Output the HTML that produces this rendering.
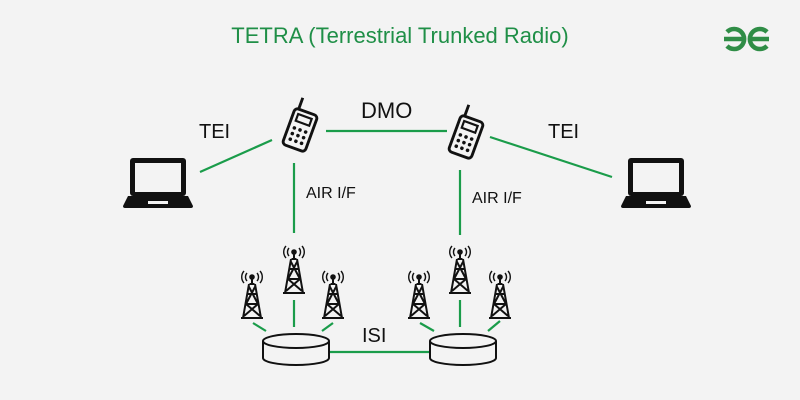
<!DOCTYPE html>
<html><head><style>body{margin:0;background:#f3f3f3}svg{display:block}</style></head><body>
<svg width="800" height="400" viewBox="0 0 800 400" xmlns="http://www.w3.org/2000/svg" font-family="Liberation Sans, sans-serif">
<defs>
<g id="tower" fill="none" stroke="#111" stroke-width="2">
<path d="M-3,-12 L-9,22 M3,-12 L9,22 M-11,22 H11 M-2.5,-12 H2.5 M-4.5,-2 L4.5,-2 M-6,8 H6 M-3.5,-10 L6,8 M3.5,-10 L-6,8 M-6,8 L8,20 M6,8 L-8,20"/>
<line x1="0" y1="-12" x2="0" y2="-20"/><circle cx="0" cy="-19" r="1.8" fill="#111"/>
<path d="M-5,-23 a6,6 0 0 0 0,8 M5,-23 a6,6 0 0 1 0,8 M-8,-25 a9,9 0 0 0 0,12 M8,-25 a9,9 0 0 1 0,12" stroke-width="1.4"/>
</g>
<g id="laptop">
<rect x="-28" y="-24" width="56" height="38" rx="3" fill="#111"/>
<rect x="-23" y="-19" width="46" height="29" fill="#f3f3f3"/>
<path d="M-30,14 H30 L35,24 Q35,26 33,26 H-33 Q-35,26 -35,24 Z" fill="#111"/>
<rect x="-10" y="19" width="20" height="3" fill="#f3f3f3"/>
</g>
<g id="phone" fill="none" stroke="#111" stroke-width="2.4">
<rect x="-10" y="-16" width="20" height="32" rx="3"/>
<line x1="-7" y1="-16" x2="-7" y2="-26"/>
<rect x="-6" y="-12" width="12" height="6" stroke-width="1.8"/>
<g fill="#111" stroke="none"><circle cx="-5" cy="0" r="1.5"/><circle cx="0" cy="0" r="1.5"/><circle cx="5" cy="0" r="1.5"/><circle cx="-5" cy="5" r="1.5"/><circle cx="0" cy="5" r="1.5"/><circle cx="5" cy="5" r="1.5"/><circle cx="-5" cy="10" r="1.5"/><circle cx="0" cy="10" r="1.5"/><circle cx="5" cy="10" r="1.5"/></g>
</g>
<g id="cyl" fill="#f3f3f3" stroke="#111" stroke-width="2">
<path d="M-33,-7 V10 A33,7 0 0 0 33,10 V-7"/>
<ellipse cx="0" cy="-7" rx="33" ry="7"/>
</g>
</defs>
<text x="400" y="43" text-anchor="middle" font-size="22" fill="#1f8f47">TETRA (Terrestrial Trunked Radio)</text>
<g fill="none" stroke="#2f8d46" stroke-width="4.5">
<path d="M727,32 A10,10 0 1 1 727,46 M724,39 H745"/>
<path d="M767,32 A10,10 0 1 0 767,46 M749,39 H769"/>
</g>
<g stroke="#1a9c4a" stroke-width="2.2">
<line x1="200" y1="172" x2="272" y2="140"/>
<line x1="326" y1="131" x2="447" y2="131"/>
<line x1="490" y1="137" x2="612" y2="177"/>
<line x1="294" y1="163" x2="294" y2="233"/>
<line x1="460" y1="170" x2="460" y2="235"/>
<line x1="329" y1="352" x2="430" y2="352"/>
<line x1="253" y1="323" x2="266" y2="331"/><line x1="294" y1="300" x2="294" y2="327"/><line x1="333" y1="323" x2="322" y2="331"/>
<line x1="420" y1="323" x2="434" y2="331"/><line x1="460" y1="300" x2="460" y2="327"/><line x1="500" y1="321" x2="488" y2="331"/>
</g>
<g font-size="20" fill="#111">
<text x="199" y="138">TEI</text><text x="548" y="138">TEI</text>
<text x="361" y="118" font-size="22">DMO</text>
<text x="362" y="342">ISI</text>
<text x="306" y="198" font-size="16">AIR I/F</text><text x="472" y="203" font-size="16">AIR I/F</text>
</g>
<use href="#laptop" x="158" y="182"/><use href="#laptop" x="656" y="182"/>
<use href="#phone" transform="translate(300,130) rotate(20) scale(1.2)"/>
<use href="#phone" transform="translate(466,137) rotate(20) scale(1.2)"/>
<use href="#tower" x="252" y="296"/><use href="#tower" x="294" y="271"/><use href="#tower" x="333" y="296"/>
<use href="#tower" x="419" y="296"/><use href="#tower" x="460" y="271"/><use href="#tower" x="500" y="296"/>
<use href="#cyl" x="296" y="348"/><use href="#cyl" x="463" y="348"/>
</svg>
</body></html>
